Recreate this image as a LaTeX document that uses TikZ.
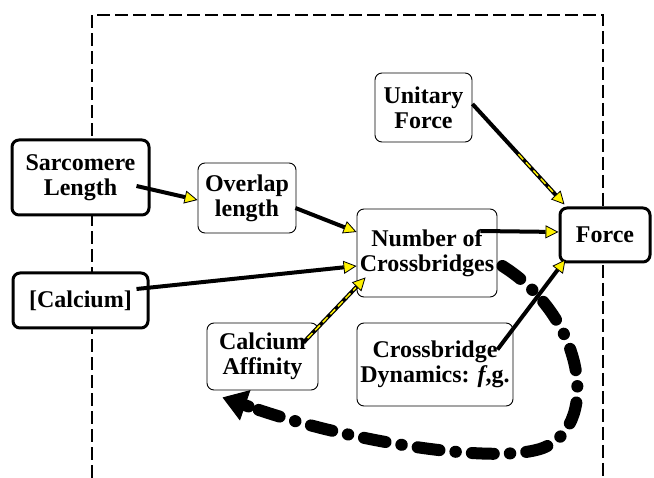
\documentclass[tikz,border=0pt]{standalone}
\usepackage{fontspec}
\setmainfont{Liberation Serif}
\usetikzlibrary{arrows.meta,calc}
\begin{document}
\begin{tikzpicture}[x=1pt,y=-1pt,
  box/.style={draw=black, fill=white, rounded corners=7pt, line width=0.9pt, align=center, inner sep=0pt,
    font=\fontsize{24}{25}\selectfont\bfseries},
  thickbox/.style={box, line width=3pt},
  conn/.style={line width=4pt, -{Triangle[length=13pt,width=13pt,fill=yellow,line width=0.8pt]}},
  ydash/.style={draw=yellow, line width=1.5pt, dash pattern=on 7pt off 4pt},
  loopline/.style={line width=12pt, line cap=round, dash pattern=on 22pt off 16pt on 0.5pt off 16pt},
  loophead/.style={line width=12pt, line cap=round, -{Triangle[length=24pt,width=32pt,line width=1pt]}},
  frame/.style={line width=2.5pt, dash pattern=on 13pt off 5pt}
]
\useasboundingbox (0,0) rectangle (654,478);
\draw[frame] (92,478) -- (92,15) -- (603,15) -- (603,478);

\node[thickbox, minimum width=137, minimum height=75] (sl) at (80.5,177.5) {Sarcomere\\Length};
\node[box, minimum width=98, minimum height=70] (ol) at (247,198) {Overlap\\length};
\node[box, minimum width=140, minimum height=88] (nc) at (427,253) {Number of\\Crossbridges};
\node[box, minimum width=97, minimum height=69] (uf) at (423.5,107.5) {Unitary\\Force};
\node[thickbox, minimum width=90, minimum height=54] (fo) at (605,235) {Force};
\node[thickbox, minimum width=135, minimum height=55] (ca) at (80.5,300.5) {[Calcium]};
\node[box, minimum width=111, minimum height=67] (caf) at (262.5,356.5) {Calcium\\Affinity};
\node[box, minimum width=156, minimum height=83] (cd) at (435,364.5) {Crossbridge\\Dynamics: \textit{f},g.};

\coordinate (cafs) at ([shift={(-15,20)}]caf.north east);
\coordinate (nct) at ([shift={(9,-20)}]nc.south west);
\coordinate (ufs) at ([shift={(0,-3.5)}]uf.east);
\coordinate (fot) at ([shift={(6,-2)}]fo.north west);
\coordinate (looptip) at ([shift={(16,7)}]caf.south west);
\coordinate (loopneck) at ([shift={(26,9)}]looptip);

\draw[conn] ([shift={(-14,8.5)}]sl.east) -- ([shift={(0,2)}]ol.west);
\draw[conn] ([shift={(-1,10)}]ol.east) -- ([shift={(0,-21)}]nc.west);
\draw[conn] ([shift={(-13,-11.5)}]ca.east) -- ([shift={(0,13)}]nc.west);
\draw[conn] (cafs) -- (nct);
\draw[ydash, shorten >=14pt, shorten <=6pt] (cafs) -- (nct);
\draw[conn] (ufs) -- (fot);
\draw[ydash, shorten >=14pt] ($(ufs)!0.5!(fot)$) -- (fot);
\draw[conn] ([shift={(-17,-22)}]nc.east) -- ([shift={(0,-3)}]fo.west);
\draw[conn] ([shift={(-16,27)}]cd.north east) -- ([shift={(7,-4)}]fo.south west);

\draw[loopline] ([shift={(5,13)}]nc.east) .. controls (588,320) and (600,430) .. (540,449)
  .. controls (490,464) and (350,442) .. (loopneck);
\draw[loophead] (loopneck) -- (looptip);
\end{tikzpicture}
\end{document}
